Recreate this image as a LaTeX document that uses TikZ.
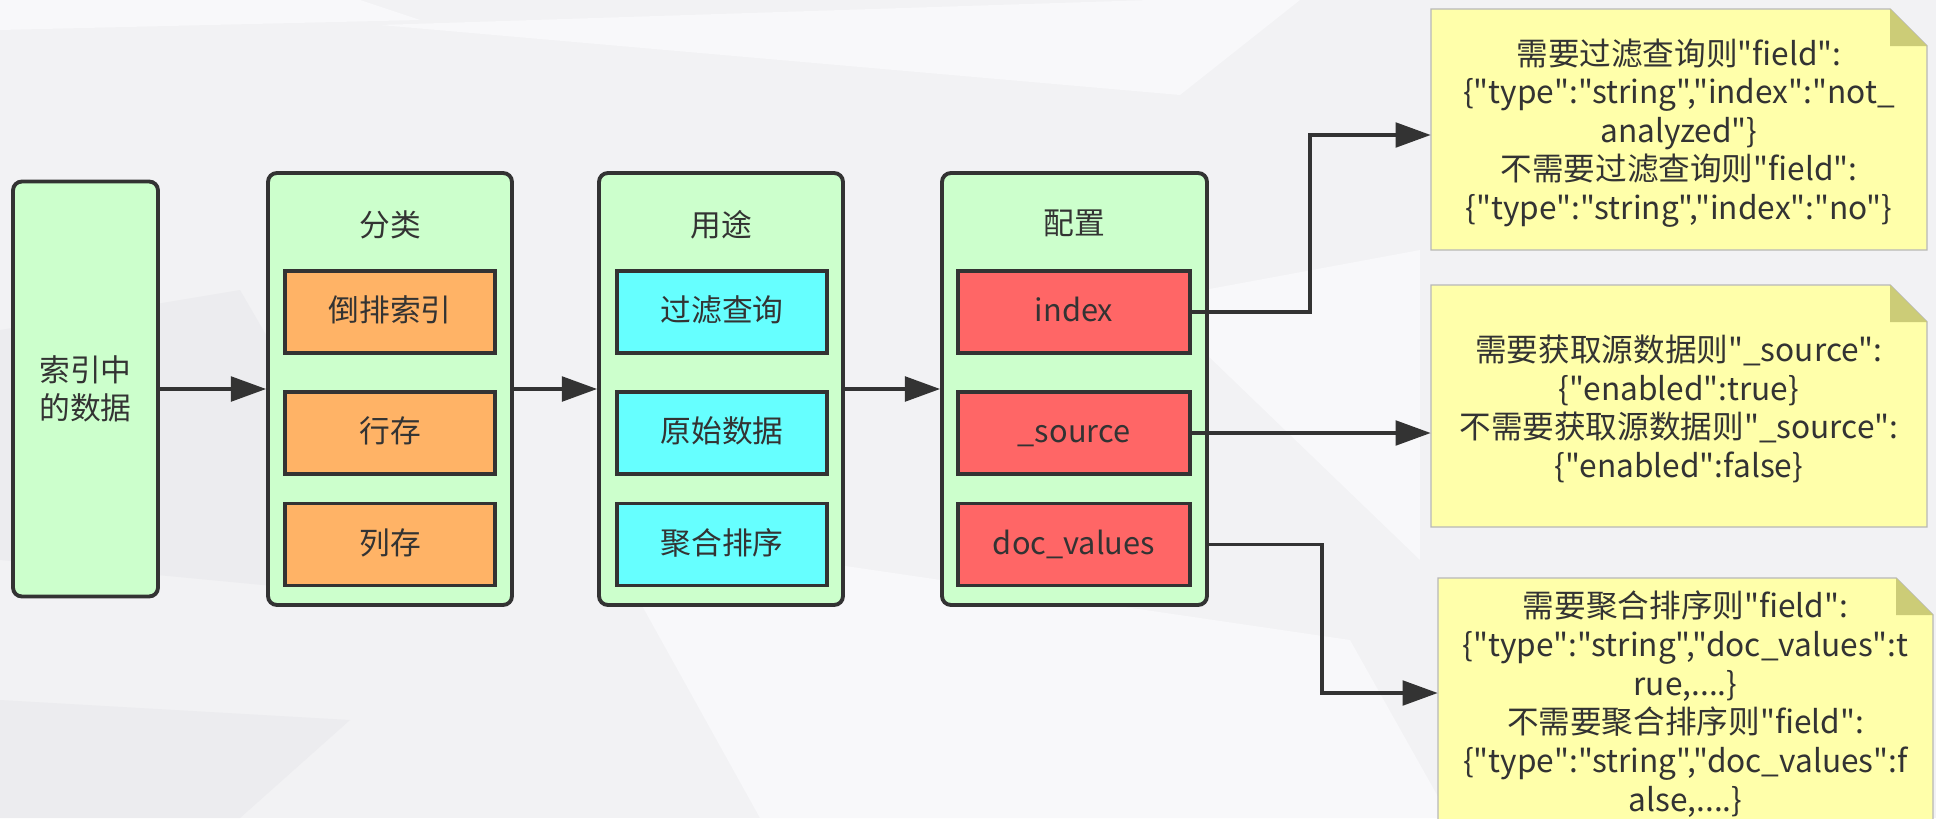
\documentclass[tikz,border=0pt]{standalone}
\usepackage{fontspec}
\newfontfamily\cjk{Noto Sans CJK SC}
\usetikzlibrary{arrows.meta}

\definecolor{bggray}{RGB}{242,242,244}
\definecolor{bglight}{RGB}{248,248,250}
\definecolor{bgdark}{RGB}{236,236,239}
\definecolor{boxgreen}{RGB}{204,255,204}
\definecolor{boxorange}{RGB}{255,179,102}
\definecolor{boxcyan}{RGB}{102,255,255}
\definecolor{boxred}{RGB}{255,102,102}
\definecolor{noteyellow}{RGB}{255,255,170}
\definecolor{notefold}{RGB}{204,204,119}
\definecolor{linegray}{RGB}{51,51,51}
\definecolor{txtgray}{RGB}{51,51,51}

\begin{document}
\begin{tikzpicture}[x=0.02cm,y=-0.02cm,
  every node/.style={text=txtgray,inner sep=0pt,font=\cjk\fontsize{17.5pt}{22pt}\selectfont},
  group/.style={draw=linegray,line width=2.2pt,fill=boxgreen,rounded corners=5pt,minimum height=8.64cm},
  item/.style={draw=linegray,line width=2.2pt,minimum height=1.64cm,text height=1.1em,text depth=0em},
  note/.style={align=center,font=\cjk\fontsize{18pt}{22pt}\selectfont},
  notefill/.style={fill=noteyellow,draw=black!28,line width=0.8pt},
  foldfill/.style={fill=notefold},
  arr/.style={draw=linegray,line width=2pt,-{Triangle[length=20pt,width=14pt]}}]
\useasboundingbox (0,0) rectangle (1936,818);
\clip (0,0) rectangle (1936,818);
\fill[bggray] (0,0) rectangle (1936,818);
\fill[bglight] (0,30) -- (420,20) -- (360,0) -- (0,0) -- cycle;
\fill[bglight] (380,25) -- (1150,0) -- (1300,0) -- (1180,95) -- cycle;
\fill[bgdark] (0,330) -- (240,290) -- (420,600) -- (0,560) -- cycle;
\fill[bglight] (600,530) -- (1350,640) -- (1450,818) -- (760,818) -- cycle;
\fill[bglight] (1150,300) -- (1420,250) -- (1420,560) -- cycle;
\fill[bgdark] (0,700) -- (350,720) -- (240,818) -- (0,818) -- cycle;

\node[group,minimum width=2.9cm,minimum height=8.3cm,align=center] (data) at (85.5,389) {索引中\\的数据};

\node[group,minimum width=4.88cm] (cat) at (390,389) {};
\node (catT) at (390,225) {分类};
\node[item,fill=boxorange,minimum width=4.2cm] (inv) at (390,312) {倒排索引};
\node[item,fill=boxorange,minimum width=4.2cm] (row) at (390,433) {行存};
\node[item,fill=boxorange,minimum width=4.2cm] (col) at (390,544.5) {列存};

\node[group,minimum width=4.88cm] (use) at (721,389) {};
\node (useT) at (721,225) {用途};
\node[item,fill=boxcyan,minimum width=4.2cm] (filt) at (722,312) {过滤查询};
\node[item,fill=boxcyan,minimum width=4.2cm] (raw) at (722,433) {原始数据};
\node[item,fill=boxcyan,minimum width=4.2cm] (agg) at (722,544.5) {聚合排序};

\node[group,minimum width=5.3cm] (conf) at (1074.5,389) {};
\node (confT) at (1074.5,223) {配置};
\node[item,fill=boxred,minimum width=4.64cm] (idx) at (1074,312) {index};
\node[item,fill=boxred,minimum width=4.64cm] (src) at (1074,433) {\_source};
\node[item,fill=boxred,minimum width=4.64cm] (dv) at (1074,544.5) {doc\_values};

\filldraw[notefill] (1431,9) -- (1890,9) -- (1927,46) -- (1927,250) -- (1431,250) -- cycle;
\fill[foldfill] (1890,9) -- (1890,46) -- (1927,46) -- cycle;
\node[note,minimum width=9.92cm,minimum height=4.82cm] (note1) at (1679,133) {需要过滤查询则"field":\\\{"type":"string","index":"not\_\\analyzed"\}\\不需要过滤查询则"field":\\\{"type":"string","index":"no"\}};

\filldraw[notefill] (1431,285) -- (1890,285) -- (1927,322) -- (1927,527) -- (1431,527) -- cycle;
\fill[foldfill] (1890,285) -- (1890,322) -- (1927,322) -- cycle;
\node[note,minimum width=9.92cm,minimum height=4.84cm] (note2) at (1679,409) {需要获取源数据则"\_source":\\\{"enabled":true\}\\不需要获取源数据则"\_source":\\\{"enabled":false\}};

\filldraw[notefill] (1438,578) -- (1896,578) -- (1933,615) -- (1933,824) -- (1438,824) -- cycle;
\fill[foldfill] (1896,578) -- (1896,615) -- (1933,615) -- cycle;
\node[note,minimum width=9.9cm,minimum height=4.92cm] (note3) at (1685.5,704) {需要聚合排序则"field":\\\{"type":"string","doc\_values":t\\rue,....\}\\不需要聚合排序则"field":\\\{"type":"string","doc\_values":f\\alse,....\}};

\draw[arr] (data.east) -- (cat.west);
\draw[arr] (cat.east) -- (use.west);
\draw[arr] (use.east) -- (conf.west);
\coordinate (k1) at (1310,135);
\draw[arr] (idx.east) -| (k1) -- (note1.west |- k1);
\draw[arr] (src.east) -- (note2.west |- src.east);
\coordinate (k3) at (1322,693);
\draw[arr] (conf.east |- dv.east) -| (k3) -- (note3.west |- k3);
\end{tikzpicture}
\end{document}
